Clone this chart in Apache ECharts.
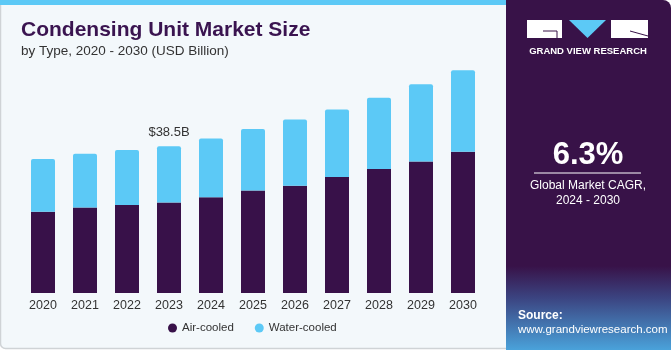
<!DOCTYPE html>
<html>
<head>
<meta charset="utf-8">
<script src="https://cdn.jsdelivr.net/npm/echarts@6/dist/echarts.min.js"></script>
<style>
  html, body { margin: 0; padding: 0; background: #fff; }
  #chart { width: 671px; height: 350px; }
</style>
</head>
<body>
<div id="chart"></div>
<script>
// data (USD billion)
const years = ["2020", "2021", "2022", "2023", "2024", "2025", "2026", "2027", "2028", "2029", "2030"];
const airCooled = [21.3, 22.4, 23.1, 23.7, 25.1, 26.9, 28.1, 30.4, 32.5, 34.5, 37.0];
const waterCooled = [13.8, 14.1, 14.4, 14.8, 15.4, 16.1, 17.4, 17.7, 18.7, 20.2, 21.4];
const labelIndex = 3; // 2023 -> $38.5B

const DARK = "#381149";
const BLUE = "#5cc9f6";
const PANEL = "#381248";
const FONT = "'Liberation Sans', Arial, sans-serif";

const chart = echarts.init(document.getElementById("chart"));

const option = {
  animation: false,
  textStyle: { fontFamily: FONT },
  graphic: [
    // left card
    { type: "rect", z: -10, shape: { x: 0.5, y: 0, width: 508, height: 348.5, r: [0, 0, 0, 5] },
      style: { fill: "#f3f8fb", stroke: "#cfd3d6", lineWidth: 1.5 } },
    { type: "rect", z: -9, shape: { x: 0, y: 0, width: 508, height: 5 }, style: { fill: "#5cc9f6" } },
    // right panel
    { type: "rect", z: -8, shape: { x: 506, y: 0, width: 165, height: 350, r: [0, 8, 0, 0] },
      style: {
        fill: new echarts.graphic.LinearGradient(0, 0, 0, 1, [
          { offset: 0, color: PANEL },
          { offset: 0.76, color: PANEL },
          { offset: 0.85, color: "#3b4380" },
          { offset: 1, color: "#4aa2da" }
        ])
      } },
    // logo
    { type: "rect", z: 10, shape: { x: 527, y: 20, width: 35, height: 18 }, style: { fill: "#ffffff" } },
    { type: "polyline", z: 11, shape: { points: [[543, 31], [557, 31], [557, 38]] }, style: { stroke: PANEL, lineWidth: 1, fill: null } },
    { type: "polygon", z: 10, shape: { points: [[569, 20], [606, 20], [587.5, 38]] }, style: { fill: "#5cc9f6" } },
    { type: "rect", z: 10, shape: { x: 611, y: 20, width: 37, height: 18 }, style: { fill: "#ffffff" } },
    { type: "line", z: 11, shape: { x1: 630, y1: 31, x2: 648, y2: 36 }, style: { stroke: PANEL, lineWidth: 1 } },
    { type: "text", z: 10, x: 588, y: 51, style: { text: "GRAND VIEW RESEARCH", fill: "#fff", font: "bold 9.5px " + FONT, align: "center", verticalAlign: "middle" } },
    // CAGR
    { type: "text", z: 10, x: 588, y: 155, style: { text: "6.3%", fill: "#fff", font: "bold 31px " + FONT, align: "center", verticalAlign: "middle" } },
    { type: "line", z: 10, shape: { x1: 534, y1: 173, x2: 641, y2: 173 }, style: { stroke: "#fff", lineWidth: 1 } },
    { type: "text", z: 10, x: 588, y: 186, style: { text: "Global Market CAGR,", fill: "#fff", font: "12px " + FONT, align: "center", verticalAlign: "middle" } },
    { type: "text", z: 10, x: 588, y: 201, style: { text: "2024 - 2030", fill: "#fff", font: "12px " + FONT, align: "center", verticalAlign: "middle" } },
    // source
    { type: "text", z: 10, x: 518, y: 316, style: { text: "Source:", fill: "#fff", font: "bold 12px " + FONT, verticalAlign: "middle" } },
    { type: "text", z: 10, x: 518, y: 330, style: { text: "www.grandviewresearch.com", fill: "#fff", font: "11.5px " + FONT, verticalAlign: "middle" } }
  ],
  title: {
    text: "Condensing Unit Market Size",
    subtext: "by Type, 2020 - 2030 (USD Billion)",
    left: 16,
    top: 15,
    itemGap: 3,
    textStyle: { color: "#3a1450", fontSize: 21, fontWeight: "bold", fontFamily: FONT },
    subtextStyle: { color: "#333", fontSize: 13.5, fontFamily: FONT }
  },
  legend: {
    data: ["Air-cooled", "Water-cooled"],
    icon: "circle",
    itemWidth: 9,
    itemHeight: 9,
    itemGap: 21,
    left: 163,
    top: 317,
    textStyle: { color: "#333", fontSize: 11.5 }
  },
  grid: { left: 22, right: 187, top: 26, bottom: 57 },
  xAxis: {
    type: "category",
    data: years,
    axisLine: { show: false },
    axisTick: { show: false },
    axisLabel: { color: "#333", fontSize: 12.5, margin: 6 }
  },
  yAxis: {
    type: "value",
    min: 0,
    max: 70,
    show: false,
    splitLine: { show: false }
  },
  series: [
    {
      name: "Air-cooled",
      type: "bar",
      stack: "total",
      barWidth: 24,
      data: airCooled,
      itemStyle: { color: DARK }
    },
    {
      name: "Water-cooled",
      type: "bar",
      stack: "total",
      barWidth: 24,
      data: waterCooled.map((v, i) => i === labelIndex ? {
        value: v,
        label: {
          show: true,
          position: "top",
          distance: 7,
          formatter: "$" + (airCooled[i] + v).toFixed(1) + "B",
          color: "#333",
          fontSize: 13
        }
      } : v),
      itemStyle: { color: BLUE, borderRadius: [2, 2, 0, 0] }
    }
  ]
};

chart.setOption(option);
</script>
</body>
</html>
